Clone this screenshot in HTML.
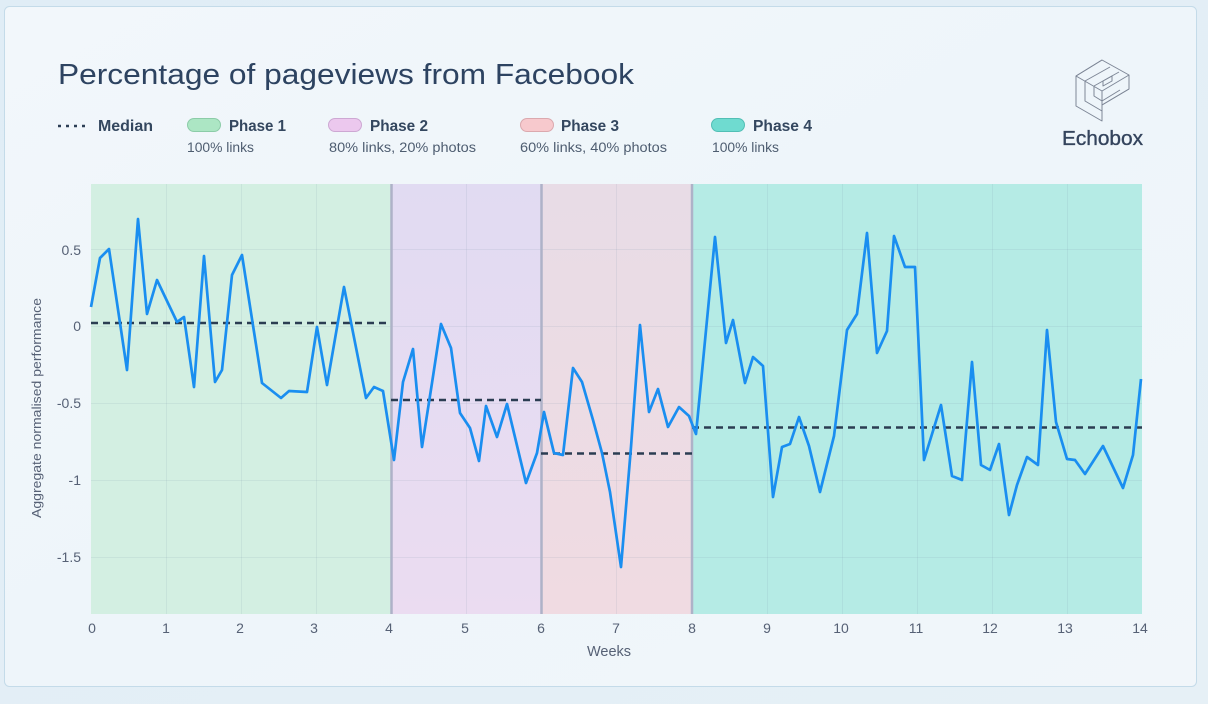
<!DOCTYPE html>
<html>
<head>
<meta charset="utf-8">
<style>
html,body{margin:0;padding:0;width:1208px;height:704px;overflow:hidden;background:#e3eef6;}
svg{display:block;}
text{font-family:"Liberation Sans",sans-serif;}
</style>
</head>
<body>
<svg width="1208" height="704" viewBox="0 0 1208 704" xmlns="http://www.w3.org/2000/svg">
<defs>
<linearGradient id="bg" x1="0" y1="0" x2="1" y2="1">
<stop offset="0" stop-color="#e0edf6"/>
<stop offset="1" stop-color="#e6f0f6"/>
</linearGradient>
<linearGradient id="card" x1="0" y1="0" x2="1" y2="1">
<stop offset="0" stop-color="#f2f7fb"/>
<stop offset="0.5" stop-color="#eef5fa"/>
<stop offset="1" stop-color="#f1f6fa"/>
</linearGradient>
<linearGradient id="p2" x1="0" y1="0" x2="0" y2="1">
<stop offset="0" stop-color="#e1dbf2"/>
<stop offset="1" stop-color="#ebdcf1"/>
</linearGradient>
<linearGradient id="p3" x1="0" y1="0" x2="0" y2="1">
<stop offset="0" stop-color="#e8dce6"/>
<stop offset="1" stop-color="#f0dbe2"/>
</linearGradient>
</defs>
<rect x="0" y="0" width="1208" height="704" fill="url(#bg)"/>
<rect x="4.5" y="6.5" width="1192" height="680" rx="5" fill="url(#card)" stroke="#c4dbe9" stroke-width="1"/>

<!-- Title -->
<text x="58" y="84" font-size="28.5" fill="#2d4361" textLength="576" lengthAdjust="spacingAndGlyphs">Percentage of pageviews from Facebook</text>

<!-- Legend -->
<line x1="58" y1="126" x2="88" y2="126" stroke="#2c3e55" stroke-width="2.5" stroke-dasharray="3 5"/>
<text x="98" y="131" font-size="16" font-weight="bold" fill="#34475f" textLength="55" lengthAdjust="spacingAndGlyphs">Median</text>

<rect x="187.5" y="118.5" width="33" height="13" rx="6.5" fill="#ace6c4" stroke="#8ccca8" stroke-width="1"/>
<text x="229" y="131" font-size="16" font-weight="bold" fill="#34475f" textLength="57" lengthAdjust="spacingAndGlyphs">Phase 1</text>
<text x="187" y="152" font-size="13.5" fill="#4e5d70" textLength="67" lengthAdjust="spacingAndGlyphs">100% links</text>

<rect x="328.5" y="118.5" width="33" height="13" rx="6.5" fill="#ecc8ee" stroke="#cda8d3" stroke-width="1"/>
<text x="370" y="131" font-size="16" font-weight="bold" fill="#34475f" textLength="58" lengthAdjust="spacingAndGlyphs">Phase 2</text>
<text x="329" y="152" font-size="13.5" fill="#4e5d70" textLength="147" lengthAdjust="spacingAndGlyphs">80% links, 20% photos</text>

<rect x="520.5" y="118.5" width="33" height="13" rx="6.5" fill="#f7c9cd" stroke="#dba9ae" stroke-width="1"/>
<text x="561" y="131" font-size="16" font-weight="bold" fill="#34475f" textLength="58" lengthAdjust="spacingAndGlyphs">Phase 3</text>
<text x="520" y="152" font-size="13.5" fill="#4e5d70" textLength="147" lengthAdjust="spacingAndGlyphs">60% links, 40% photos</text>

<rect x="711.5" y="118.5" width="33" height="13" rx="6.5" fill="#6fdbd0" stroke="#52bfb5" stroke-width="1"/>
<text x="753" y="131" font-size="16" font-weight="bold" fill="#34475f" textLength="59" lengthAdjust="spacingAndGlyphs">Phase 4</text>
<text x="712" y="152" font-size="13.5" fill="#4e5d70" textLength="67" lengthAdjust="spacingAndGlyphs">100% links</text>

<!-- Logo -->
<g fill="none" stroke="#7d8696" stroke-width="1" stroke-linejoin="round">
<polygon points="1102,60 1129,75 1129,89 1102,105 1102,121 1076,106 1076,76"/>
<polyline points="1076,76 1102,91 1102,105"/>
<polyline points="1102,60 1076,76"/>
<polyline points="1085,81 1085,101 1102,111"/>
<polyline points="1085,81 1110,67"/>
<polyline points="1094,86 1094,96 1102,101 1120,90"/>
<polyline points="1094,86 1119,72"/>
<polyline points="1103,81 1103,86 1112,81 1112,76 1103,81"/>
<polyline points="1102,91 1129,75"/>
<polyline points="1102,105 1129,89"/>
</g>
<text x="1062" y="145" font-size="20" fill="#34445d" stroke="#34445d" stroke-width="0.35" textLength="81" lengthAdjust="spacingAndGlyphs">Echobox</text>

<!-- Plot phases -->
<rect x="91" y="184" width="300.5" height="430" fill="#d3efe2"/>
<rect x="391.5" y="184" width="150" height="430" fill="url(#p2)"/>
<rect x="541.5" y="184" width="150.5" height="430" fill="url(#p3)"/>
<rect x="692" y="184" width="450" height="430" fill="#b5ebe5"/>

<!-- Grid -->
<g stroke="#7c96a8" stroke-opacity="0.13" stroke-width="1">
<line x1="91" y1="249.5" x2="1142" y2="249.5"/>
<line x1="91" y1="326.5" x2="1142" y2="326.5"/>
<line x1="91" y1="403.5" x2="1142" y2="403.5"/>
<line x1="91" y1="480.5" x2="1142" y2="480.5"/>
<line x1="91" y1="557.5" x2="1142" y2="557.5"/>
<line x1="166.5" y1="184" x2="166.5" y2="614"/>
<line x1="241.5" y1="184" x2="241.5" y2="614"/>
<line x1="316.5" y1="184" x2="316.5" y2="614"/>
<line x1="466.5" y1="184" x2="466.5" y2="614"/>
<line x1="616.5" y1="184" x2="616.5" y2="614"/>
<line x1="767.5" y1="184" x2="767.5" y2="614"/>
<line x1="842.5" y1="184" x2="842.5" y2="614"/>
<line x1="917.5" y1="184" x2="917.5" y2="614"/>
<line x1="992.5" y1="184" x2="992.5" y2="614"/>
<line x1="1067.5" y1="184" x2="1067.5" y2="614"/>
</g>
<g stroke="#aeb2c8" stroke-width="2.5">
<line x1="391.5" y1="184" x2="391.5" y2="614"/>
<line x1="541.5" y1="184" x2="541.5" y2="614"/>
<line x1="692" y1="184" x2="692" y2="614"/>
</g>

<!-- Medians -->
<g stroke="#2b3d52" stroke-width="2.6" stroke-dasharray="7 5">
<line x1="91" y1="323" x2="391" y2="323"/>
<line x1="391" y1="400" x2="541" y2="400"/>
<line x1="541" y1="453.5" x2="692" y2="453.5"/>
<line x1="692" y1="427.5" x2="1142" y2="427.5"/>
</g>

<!-- Series -->
<polyline fill="none" stroke="#1a8ef0" stroke-width="2.7" stroke-linejoin="round" points="
91,307 100,258 109,249 127,370 138,219 147,314 157,280 177,322 184,317 194,387 204,256 215,382 222,370 232,275 242,255 262,383 281,398 289,391 307,392 317,327 327,385 344,287 366,398 374,387 383,391
394,460 403,382 413,349 422,447 432,383 441,324 451,348 460,413 470,428 479,461 486,406 497,437 507,404 526,483 537,453 544,412 554,453 563,455 573,368 582,382 593,420 602,453 610,492 621,567 631,447 640,325 649,412 658,389 668,427 679,407 689,416 696,434
715,237 726,343 733,320 745,383 753,357 763,366 773,497 782,447 790,444 799,417 809,446 820,492 834,436 847,330 857,314 867,233 877,353 887,331 894,236 905,267 915,267 924,460 941,405 952,476 962,480 972,362 981,465 990,470 999,444 1009,515 1017,485 1027,457 1038,465 1047,330 1056,422 1067,459 1075,460 1085,474 1103,446 1123,488 1133,455 1141,379"/>

<!-- Y axis labels -->
<g font-size="14" fill="#566175" text-anchor="end">
<text x="81" y="255">0.5</text>
<text x="81" y="331">0</text>
<text x="81" y="408">-0.5</text>
<text x="81" y="485">-1</text>
<text x="81" y="562">-1.5</text>
</g>
<text transform="translate(41,408) rotate(-90)" text-anchor="middle" font-size="13" fill="#566175" textLength="220" lengthAdjust="spacingAndGlyphs">Aggregate normalised performance</text>

<!-- X axis labels -->
<g font-size="14" fill="#566175" text-anchor="middle">
<text x="92" y="633">0</text>
<text x="166" y="633">1</text>
<text x="240" y="633">2</text>
<text x="314" y="633">3</text>
<text x="389" y="633">4</text>
<text x="465" y="633">5</text>
<text x="541" y="633">6</text>
<text x="616" y="633">7</text>
<text x="692" y="633">8</text>
<text x="767" y="633">9</text>
<text x="841" y="633">10</text>
<text x="916" y="633">11</text>
<text x="990" y="633">12</text>
<text x="1065" y="633">13</text>
<text x="1140" y="633">14</text>
</g>
<text x="609" y="656" text-anchor="middle" font-size="14.5" fill="#566175">Weeks</text>
</svg>
</body>
</html>
